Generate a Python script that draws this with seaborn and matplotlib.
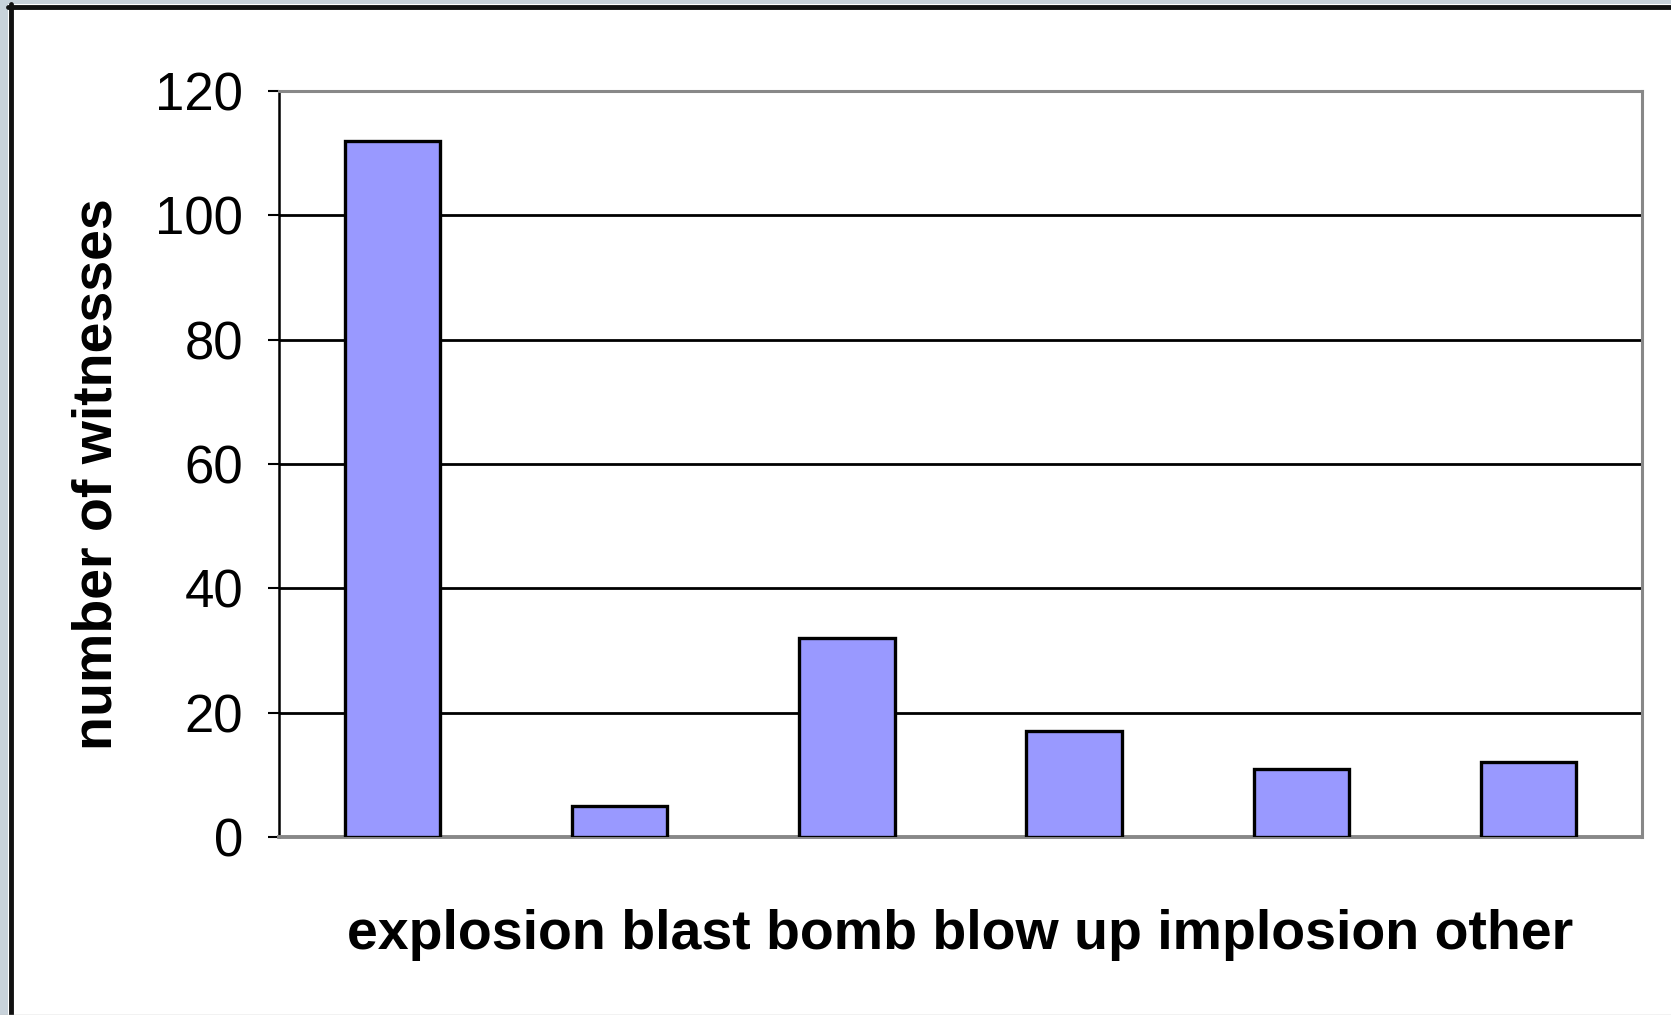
import matplotlib
matplotlib.use("Agg")
import matplotlib.pyplot as plt
import seaborn as sns
import pandas as pd
from matplotlib.patches import Rectangle
from matplotlib.lines import Line2D

# --- Data ---
categories = ["explosion", "blast", "bomb", "blow up", "implosion", "other"]
witnesses = [112, 5, 32, 17, 11, 12]
y_ticks = [0, 20, 40, 60, 80, 100, 120]

df = pd.DataFrame({"word": categories, "count": witnesses})

sns.set_style("white")
plt.rcParams["font.family"] = ["Liberation Sans", "DejaVu Sans"]
plt.rcParams["text.color"] = "black"
plt.rcParams["axes.labelcolor"] = "black"
plt.rcParams["ytick.color"] = "black"

fig = plt.figure(figsize=(16.71, 10.15), dpi=100)
fig.patch.set_facecolor("white")
ax = fig.add_axes([0.167, 0.1754, 0.8156, 0.7349])

# --- Bars ---
sns.barplot(data=df, x="word", y="count", color="#9999ff", width=0.42,
            edgecolor="black", linewidth=2.4, saturation=1, ax=ax, zorder=3)

ax.set_xlim(-0.5, len(categories) - 0.5)
ax.set_ylim(0, 120)
ax.set_yticks(y_ticks)
ax.set_xticks([])
ax.tick_params(axis="y", labelsize=38, length=8, width=1.5, pad=18,
               direction="out", left=True, colors="black")

# gridlines
for v in y_ticks[1:-1]:
    ax.axhline(v, color="black", lw=2, zorder=1)

# --- Spines ---
ax.spines["left"].set_color("black")
ax.spines["left"].set_linewidth(1.8)
ax.spines["top"].set_color("#888888")
ax.spines["top"].set_linewidth(2.2)
ax.spines["right"].set_color("#888888")
ax.spines["right"].set_linewidth(2.2)
ax.spines["bottom"].set_color("#888888")
ax.spines["bottom"].set_linewidth(2.8)

# --- Labels ---
ax.set_xlabel(" ".join(categories), fontsize=40, fontweight="bold")
ax.xaxis.set_label_coords(0.5, -0.097)
ax.set_ylabel("number of witnesses", fontsize=40, fontweight="bold")
ax.yaxis.set_label_coords(-0.114, 0.487)

# --- Outer frame (screenshot border) ---
fig.add_artist(Rectangle((0, 0), 8 / 1671, 1, transform=fig.transFigure,
                         facecolor="#c8d2da", edgecolor="none"))
fig.add_artist(Rectangle((0, 1 - 4 / 1015), 1, 4 / 1015, transform=fig.transFigure,
                         facecolor="#c8d2da", edgecolor="none"))
fig.add_artist(Line2D([10.5 / 1671, 10.5 / 1671], [0, 1 - 4 / 1015],
                      transform=fig.transFigure, color="#111111", lw=3.5))
fig.add_artist(Line2D([8 / 1671, 1], [1 - 6.5 / 1015, 1 - 6.5 / 1015],
                      transform=fig.transFigure, color="#111111", lw=3.5))
fig.add_artist(Line2D([0, 1], [0.5 / 1015, 0.5 / 1015],
                      transform=fig.transFigure, color="#c0c0c0", lw=1))

fig.savefig("out.png", dpi=100)
